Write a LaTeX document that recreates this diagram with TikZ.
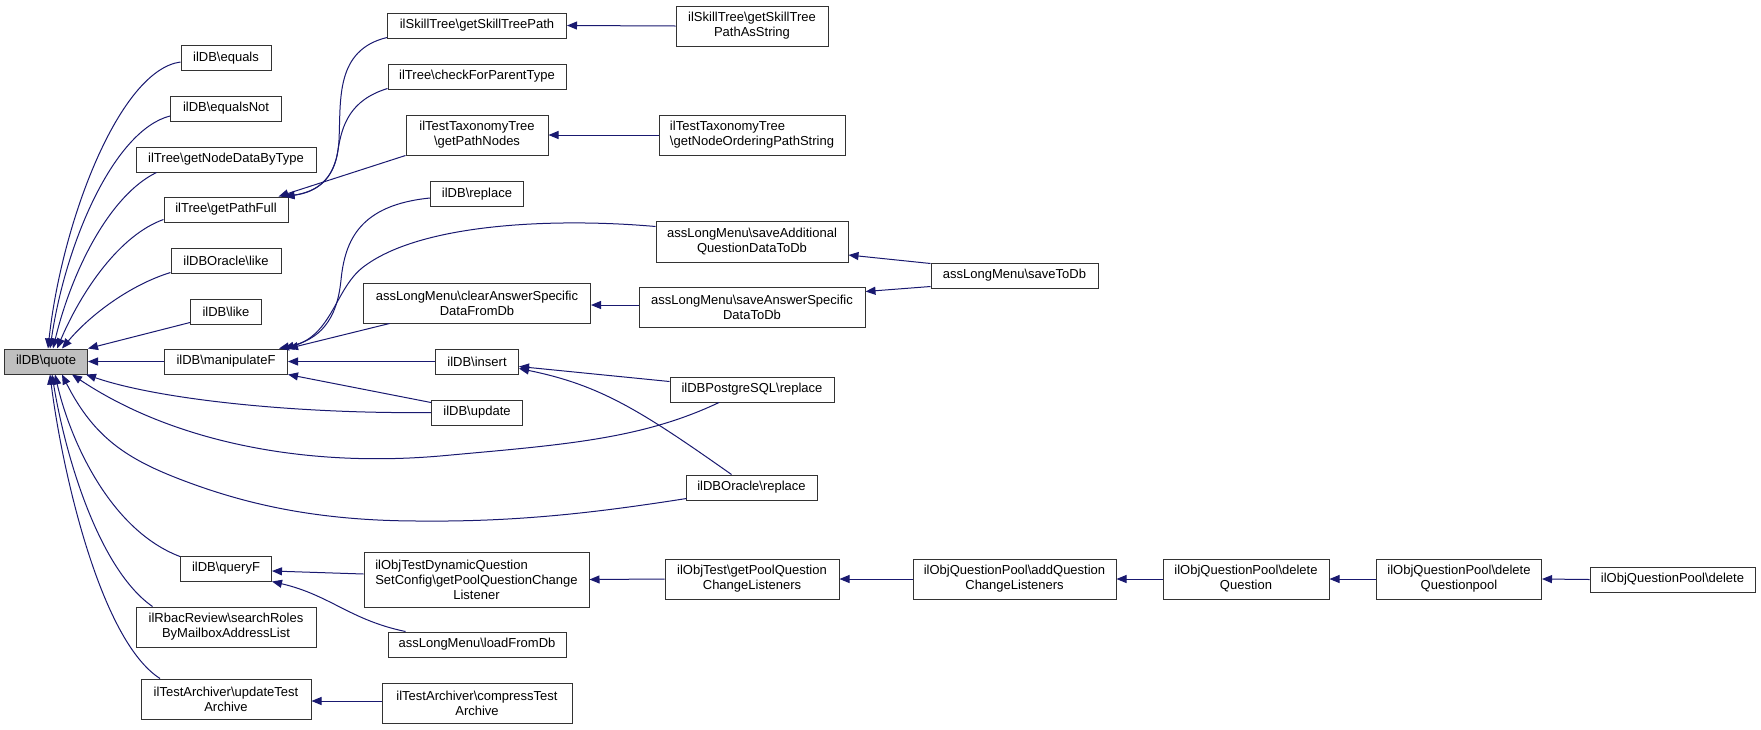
\documentclass[tikz,border=0pt]{standalone}
\usepackage{fontspec}
\setmainfont{Liberation Sans}
\usetikzlibrary{arrows.meta,calc}
\definecolor{edgecol}{HTML}{191970}
\definecolor{qgray}{HTML}{BFBFBF}
\newcommand\dbs{\textbackslash}
\begin{document}
\begin{tikzpicture}[x=1pt,y=-1pt,
  box/.style={draw=black!80, line width=1pt, fill=white, inner sep=0pt, align=center, font=\fontsize{13}{15}\selectfont},
  edge/.style={draw=edgecol, line width=1pt, -{Triangle[length=10pt,width=8pt]}}]
\fill[white] (0,0) rectangle (1761,729);
\useasboundingbox (0,0) rectangle (1761,729);
% column 1
\node[box, fill=qgray, minimum width=83pt, minimum height=25pt] (quote) at (46,361.5) {ilDB\dbs quote};
% column 2
\node[box, minimum width=90pt, minimum height=25pt] (equals) at (226,58) {ilDB\dbs equals};
\node[box, minimum width=111pt, minimum height=25pt] (equalsnot) at (226,108.5) {ilDB\dbs equalsNot};
\node[box, minimum width=180pt, minimum height=25pt] (nodedata) at (226,159.5) {ilTree\dbs getNodeDataByType};
\node[box, minimum width=124pt, minimum height=25pt] (pathfull) at (226,209.5) {ilTree\dbs getPathFull};
\node[box, minimum width=110pt, minimum height=25pt] (oralike) at (226,260.5) {ilDBOracle\dbs like};
\node[box, minimum width=71pt, minimum height=25pt] (like) at (226,311.5) {ilDB\dbs like};
\node[box, minimum width=123pt, minimum height=25pt] (manip) at (226,361.5) {ilDB\dbs manipulateF};
\node[box, minimum width=91pt, minimum height=25pt] (queryf) at (226,568.5) {ilDB\dbs queryF};
\node[box, minimum width=180pt, minimum height=40pt] (rbac) at (226,627) {ilRbacReview\dbs searchRoles\\ByMailboxAddressList};
\node[box, minimum width=170pt, minimum height=40pt] (updarch) at (226,699) {ilTestArchiver\dbs updateTest\\Archive};
% column 3
\node[box, minimum width=179pt, minimum height=25pt] (skillpath) at (477,25.5) {ilSkillTree\dbs getSkillTreePath};
\node[box, minimum width=178pt, minimum height=25pt] (checkparent) at (477,76.5) {ilTree\dbs checkForParentType};
\node[box, minimum width=142pt, minimum height=40pt] (pathnodes) at (477,135) {ilTestTaxonomyTree\\\dbs getPathNodes};
\node[box, minimum width=93pt, minimum height=25pt] (replace) at (477,194) {ilDB\dbs replace};
\node[box, minimum width=227pt, minimum height=40pt] (clearans) at (477,303) {assLongMenu\dbs clearAnswerSpecific\\DataFromDb};
\node[box, minimum width=83pt, minimum height=25pt] (insert) at (477,361.5) {ilDB\dbs insert};
\node[box, minimum width=91pt, minimum height=25pt] (update) at (477,412.5) {ilDB\dbs update};
\node[box, minimum width=225pt, minimum height=55pt] (dynq) at (476.5,579.5) {\rlap{ilObjTestDynamicQuestion}\hphantom{SetConfig\dbs getPoolQuestionChange}\\SetConfig\dbs getPoolQuestionChange\\Listener};
\node[box, minimum width=178pt, minimum height=25pt] (loaddb) at (477,644.5) {assLongMenu\dbs loadFromDb};
\node[box, minimum width=190pt, minimum height=40pt] (comparch) at (477,703) {ilTestArchiver\dbs compressTest\\Archive};
% column 4
\node[box, minimum width=152pt, minimum height=40pt] (skillstr) at (752,26) {ilSkillTree\dbs getSkillTree\\PathAsString};
\node[box, minimum width=186pt, minimum height=40pt, align=left] (ordering) at (752,135) {ilTestTaxonomyTree\\\dbs getNodeOrderingPathString};
\node[box, minimum width=192pt, minimum height=41pt] (saveadd) at (752,241.5) {assLongMenu\dbs saveAdditional\\QuestionDataToDb};
\node[box, minimum width=226pt, minimum height=40pt] (saveans) at (752,307) {assLongMenu\dbs saveAnswerSpecific\\DataToDb};
\node[box, minimum width=164pt, minimum height=25pt] (pgreplace) at (752,389.5) {ilDBPostgreSQL\dbs replace};
\node[box, minimum width=131pt, minimum height=25pt] (orareplace) at (751.5,487.5) {ilDBOracle\dbs replace};
\node[box, minimum width=174pt, minimum height=40pt] (poolq) at (752,579) {ilObjTest\dbs getPoolQuestion\\ChangeListeners};
% column 5-8
\node[box, minimum width=167pt, minimum height=25pt] (savetodb) at (1014.5,275.5) {assLongMenu\dbs saveToDb};
\node[box, minimum width=203pt, minimum height=40pt] (addq) at (1014.5,579) {ilObjQuestionPool\dbs addQuestion\\ChangeListeners};
\node[box, minimum width=166pt, minimum height=40pt] (delq) at (1246,579) {ilObjQuestionPool\dbs delete\\Question};
\node[box, minimum width=165pt, minimum height=40pt] (delpool) at (1459,579) {ilObjQuestionPool\dbs delete\\Questionpool};
\node[box, minimum width=165pt, minimum height=25pt] (del) at (1672.5,579.5) {ilObjQuestionPool\dbs delete};

% edges into quote from above
\draw[edge] ($(equals.west)+(0,4)$) .. controls (120,70) and (62,220) .. ($(quote.north)+(2,0)$);
\draw[edge] ($(equalsnot.west)+(0,7.5)$) .. controls (115,130) and (66,240) .. ($(quote.north)+(4,0)$);
\draw[edge] ($(nodedata.south west)+(21,0)$) .. controls (110,195) and (72,270) .. ($(quote.north)+(7,0)$);
\draw[edge] ($(pathfull.south west)+(0,-3)$) .. controls (120,235) and (82,290) .. ($(quote.north)+(11,0)$);
\draw[edge] ($(oralike.south west)+(0,-1)$) .. controls (130,285) and (90,315) .. ($(quote.north)+(16,0)$);
\draw[edge] ($(like.south west)+(0,-2)$) -- (quote.north east);
\draw[edge] (manip.west) -- (quote.east);
% edges into quote from below
\draw[edge] (update.west) .. controls (300,414) and (160,400) .. ($(quote.south east)+(-2,0)$);
\draw[edge] ($(pgreplace.south)+(-33,0)$) .. controls (640,440) and (560,445) .. (440,456) .. controls (300,468) and (170,440) .. ($(quote.south)+(26,0)$);
\draw[edge] ($(orareplace.south west)+(1,-2)$) .. controls (600,512) and (520,522) .. (420,521) .. controls (320,521) and (250,505) .. (190,483) .. controls (130,461) and (95,440) .. ($(quote.south)+(16,0)$);
\draw[edge] ($(queryf.north west)+(0,1)$) .. controls (110,530) and (70,440) .. ($(quote.south)+(9,0)$);
\draw[edge] ($(rbac.north west)+(17,0)$) .. controls (100,570) and (66,460) .. ($(quote.south)+(6,0)$);
\draw[edge] ($(updarch.north west)+(19.5,0)$) .. controls (100,640) and (62,470) .. ($(quote.south)+(4,0)$);
% into getPathFull
\draw[edge] ($(skillpath.south west)+(0,-1)$) .. controls (335,50) and (341,100) .. (339,140) .. controls (337,178) and (318,192) .. ($(pathfull.north east)+(-4,0)$);
\draw[edge] ($(checkparent.south west)+(0,-1)$) .. controls (350,100) and (342,125) .. (338,150) .. controls (334,180) and (316,192) .. ($(pathfull.north east)+(-4,0)$);
\draw[edge] (pathnodes.south west) -- ($(pathfull.north east)+(-10,0)$);
% into manipulateF
\draw[edge] ($(replace.west)+(0,4)$) .. controls (360,205) and (345,240) .. (341,280) .. controls (337,320) and (320,340) .. ($(manip.north east)+(-9,0)$);
\draw[edge] ($(saveadd.north west)+(0,6)$) .. controls (560,218) and (420,222) .. (362,268) .. controls (335,290) and (332,335) .. ($(manip.north east)+(-4,0)$);
\draw[edge] ($(clearans.south west)+(26.5,0)$) -- (manip.north east);
\draw[edge] (insert.west) -- (manip.east);
\draw[edge] ($(update.north west)+(0,3)$) -- (manip.south east);
% into insert
\draw[edge] ($(pgreplace.west)+(0,-8)$) -- ($(insert.east)+(0,5)$);
\draw[edge] ($(orareplace.north)+(-20,0)$) .. controls (640,410) and (600,385) .. ($(insert.east)+(0,7)$);
% into queryF
\draw[edge] ($(dynq.west)+(0,-5.5)$) -- ($(queryf.east)+(0,2.5)$);
\draw[edge] ($(loaddb.north west)+(18,0)$) .. controls (350,620) and (330,595) .. (queryf.south east);
% straight chains
\draw[edge] (skillstr.west) -- (skillpath.east);
\draw[edge] (ordering.west) -- (pathnodes.east);
\draw[edge] ($(saveans.west)+(0,-2)$) -- ($(clearans.east)+(0,2)$);
\draw[edge] ($(savetodb.north west)+(0,1)$) -- ($(saveadd.east)+(0,13.5)$);
\draw[edge] ($(savetodb.south west)+(0,-2)$) -- ($(saveans.north east)+(0,5)$);
\draw[edge] (poolq.west) -- (dynq.east);
\draw[edge] (addq.west) -- (poolq.east);
\draw[edge] (delq.west) -- (addq.east);
\draw[edge] (delpool.west) -- (delq.east);
\draw[edge] (del.west) -- (delpool.east);
\draw[edge] ($(comparch.west)+(0,-2)$) -- ($(updarch.east)+(0,2)$);
\end{tikzpicture}
\end{document}
